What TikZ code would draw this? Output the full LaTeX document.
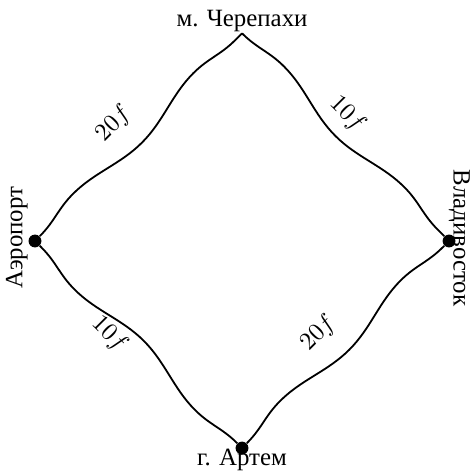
\documentclass[tikz,border=0pt]{standalone}
\usepackage{fontspec}
\newfontfamily\cyrfont{Liberation Serif}
\usepackage{tikz}
\usetikzlibrary{decorations.pathmorphing, calc}

\tikzset{
  city/.style={circle, fill=black, inner sep=0pt, minimum size=0.2cm},
  road/.style={thick, decorate, decoration={snake, amplitude=2.8pt, segment length=2.65cm}},
  place/.style={font=\cyrfont\fontsize{11}{13}\selectfont, inner sep=0pt},
  cost/.style={font=\fontsize{11}{13}\selectfont, sloped}
}

\begin{document}
\begin{tikzpicture}
  \useasboundingbox (-3.764,-3.624) rectangle (3.639,3.748);

  % --- Cities ---
  \node[city] (airport) at (-3.22,0) {};
  \node[city] (vlad) at (3.22,0) {};
  \node[city] (artem) at (0,-3.22) {};
  \coordinate (cherep) at (0,3.23);

  % --- Names ---
  \node[place, anchor=base] (cherepname) at ($(cherep)+(0,0.1)$) {м. Черепахи};
  \node[place, anchor=south, rotate=90] (airportname) at ($(airport.west)+(0,0.05)$) {Аэропорт};
  \node[place, anchor=base, rotate=-90] (vladname) at ($(vlad)+(0.07,0.05)$) {Владивосток};
  \node[place, anchor=base] (artemname) at ($(artem)+(0,-0.27)$) {г. Артем};

  % --- Roads ---
  \draw[road] (airport) -- node[cost, pos=0.46, above=3.4pt] {$20f$} (cherep);
  \draw[road] (cherep) -- node[cost, pos=0.46, above=-1pt] {$10f$} (vlad);
  \draw[road] (artem) -- node[cost, pos=0.6, below=-2.7pt] {$10f$} (airport);
  \draw[road] (artem) -- node[cost, pos=0.46, above=3.4pt] {$20f$} (vlad);
\end{tikzpicture}
\end{document}
